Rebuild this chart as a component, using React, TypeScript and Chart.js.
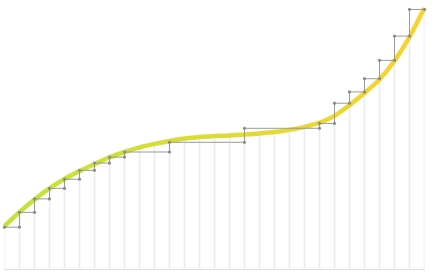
import React, { useEffect, useRef } from 'react';
import { Chart, registerables } from 'chart.js';

Chart.register(...registerables);

// x positions (sample index) 0..28
const positions = [0, 1, 2, 3, 4, 5, 6, 7, 8, 9, 10, 11, 12, 13, 14, 15, 16, 17, 18, 19, 20, 21, 22, 23, 24, 25, 26, 27, 28];

// smooth curve values at each position
const curveValues = [16.1, 21.3, 26.0, 30.1, 33.6, 36.5, 39.1, 41.6, 43.6, 45.3, 46.6, 47.7, 48.6, 49.2, 49.5, 49.7, 50.1, 50.5, 51.0, 51.8, 52.9, 54.5, 57.0, 61.0, 65.5, 70.5, 77.4, 86.3, 97.0];

// stepped approximation: where each step starts, and its level
const stepStarts = [0, 1, 2, 3, 4, 5, 6, 7, 8, 11, 16, 21, 22, 23, 24, 25, 26, 27];
const stepEnd = 28;
const stepValues = [15.7, 21.2, 26.2, 30.1, 33.5, 36.8, 39.5, 41.7, 43.6, 47.2, 52.4, 54.2, 61.7, 65.9, 70.8, 77.6, 86.6, 96.5];

function buildStepPoints() {
  const pts: { x: number; y: number }[] = [];
  stepStarts.forEach((s, i) => {
    const next = i + 1 < stepStarts.length ? stepStarts[i + 1] : stepEnd;
    pts.push({ x: s, y: stepValues[i] });
    pts.push({ x: next, y: stepValues[i] });
  });
  return pts;
}

export default function App() {
  const canvasRef = useRef<HTMLCanvasElement | null>(null);

  useEffect(() => {
    if (!canvasRef.current) return;
    const curvePts = positions.map((x, i) => ({ x, y: curveValues[i] }));
    const chart = new Chart(canvasRef.current, {
      type: 'line',
      data: {
        datasets: [
          {
            type: 'line',
            data: buildStepPoints(),
            borderColor: '#9a9a9a',
            borderWidth: 1,
            pointRadius: 1.6,
            pointBorderWidth: 0,
            pointBackgroundColor: '#8c8c8c',
            tension: 0,
            fill: false,
            clip: false,
          } as any,
          {
            type: 'line',
            data: curvePts,
            borderWidth: 4.5,
            pointRadius: 0,
            cubicInterpolationMode: 'monotone',
            fill: false,
            clip: false,
            borderColor: (ctx: any) => {
              const c = ctx.chart;
              const area = c.chartArea;
              if (!area) return '#c3e53b';
              const g = c.ctx.createLinearGradient(area.left, 0, area.right, 0);
              g.addColorStop(0, '#c1e43b');
              g.addColorStop(1, '#f8d32f');
              return g;
            },
          } as any,
          {
            type: 'bar',
            data: curvePts,
            backgroundColor: '#ececec',
            borderWidth: 0,
            barThickness: 1,
          } as any,
        ],
      },
      options: {
        animation: false,
        responsive: true,
        maintainAspectRatio: false,
        layout: { autoPadding: false, padding: { left: 4.5, right: 12.5, top: 0, bottom: 4.5 } },
        plugins: { legend: { display: false }, tooltip: { enabled: false } },
        events: [],
        scales: {
          x: {
            type: 'linear',
            min: 0,
            max: 28,
            offset: false,
            grid: { display: false, offset: false, drawTicks: false },
            ticks: { display: false },
            border: { display: true, color: '#dedede', width: 1 },
          },
          y: {
            display: false,
            min: 0,
            max: 100,
          },
        },
      } as any,
    });
    return () => chart.destroy();
  }, []);

  return (
    <div style={{ position: 'fixed', left: 0, top: 0, width: 437, height: 274 }}>
      <canvas ref={canvasRef} />
    </div>
  );
}
